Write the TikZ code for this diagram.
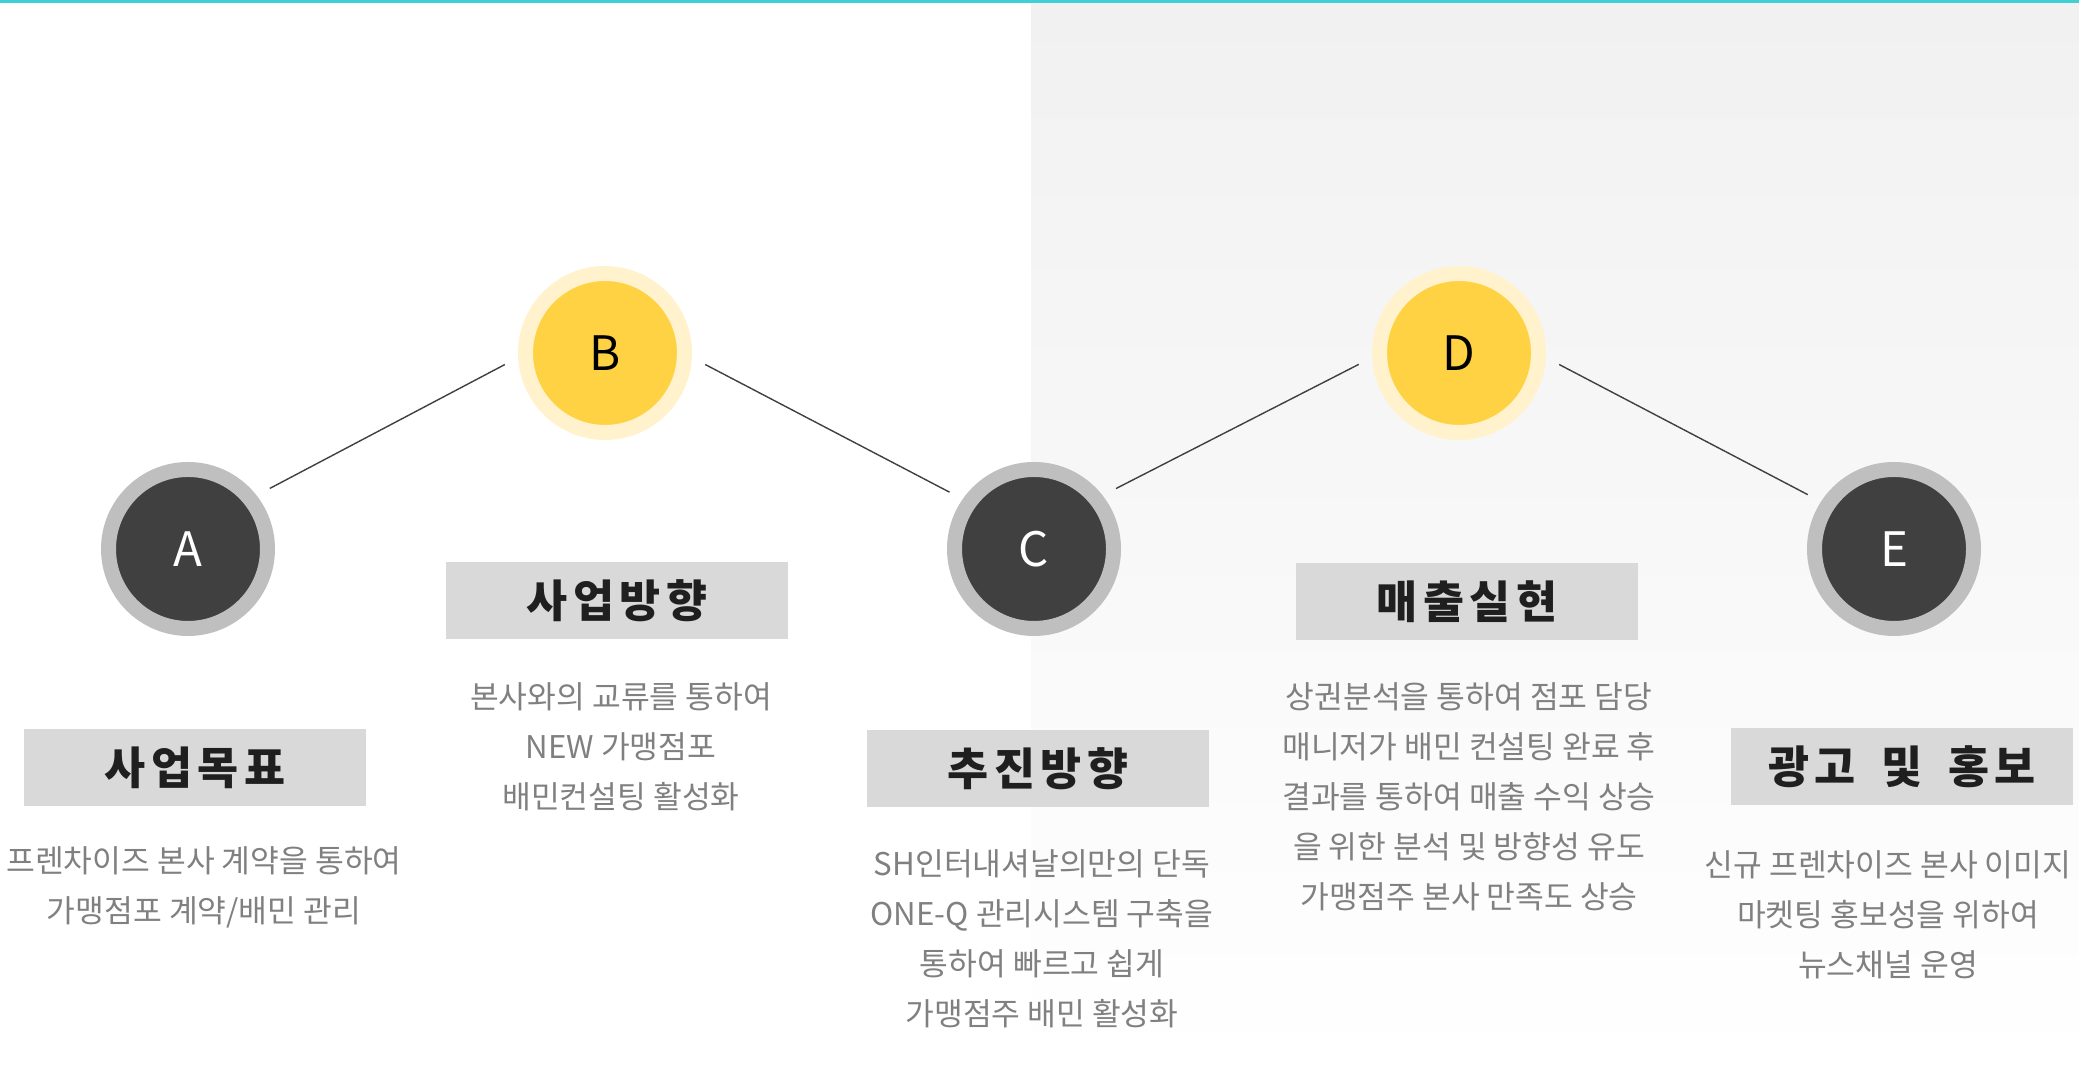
\documentclass[tikz,border=0pt]{standalone}
\usepackage{fontspec}
\setmainfont{Noto Sans CJK KR}
\newfontfamily\titlefont[LetterSpace=12]{Noto Sans CJK KR}
\usepackage{tikz}
\usetikzlibrary{calc,positioning}
\definecolor{ringgray}{HTML}{BFBFBF}
\definecolor{darkfill}{HTML}{404040}
\definecolor{ringyellow}{HTML}{FFF2CC}
\definecolor{sunfill}{HTML}{FFD243}
\definecolor{boxgray}{HTML}{D9D9D9}
\definecolor{txtgray}{HTML}{808080}
\definecolor{topline}{HTML}{40D0D4}
\definecolor{bgtop}{HTML}{F1F1F1}

\begin{document}
\begin{tikzpicture}[gcirc/.style={circle,fill=darkfill,draw=ringgray,line width=0.15cm,minimum size=1.59cm,inner sep=0pt,text=white,font=\fontsize{13.5}{16}\selectfont},
                    ycirc/.style={circle,fill=sunfill,draw=ringyellow,line width=0.15cm,minimum size=1.59cm,inner sep=0pt,text=black,font=\fontsize{13.5}{16}\selectfont},
                    ttl/.style={fill=boxgray,minimum width=3.42cm,minimum height=0.77cm,inner sep=0pt,text=black!88,font=\titlefont\fontsize{12.7}{15}\bfseries},
                    txt/.style={align=center,text=txtgray,font=\fontsize{8.9}{14.2}\selectfont},
                    link/.style={draw=darkfill,line width=0.4pt,shorten <=0.15cm,shorten >=0.15cm}]
                      \useasboundingbox (0,0) rectangle (20.79,10.69);
                      \shade[top color=bgtop,bottom color=white] (10.31,0) rectangle (20.79,10.66);
                      \fill[topline] (0,10.66) rectangle (20.79,10.69);

                      \node[gcirc] (a) at (1.88,5.20) {A};
                      \node[ycirc] (b) at (6.05,7.16) {B};
                      \node[gcirc] (c) at (10.34,5.20) {C};
                      \node[ycirc] (d) at (14.59,7.16) {D};
                      \node[gcirc] (e) at (18.94,5.20) {E};

                      \draw[link] (a.38) -- (b.183);
                      \draw[link] (b.357) -- (c.145);
                      \draw[link] (c.38) -- (d.183);
                      \draw[link] (d.357) -- (e.147);

                      \node[ttl] (ta) at (1.95,3.01) {사업목표};
                      \node[ttl] (tb) at (6.17,4.68) {사업방향};
                      \node[ttl] (tc) at (10.38,3.00) {추진방향};
                      \node[ttl] (td) at (14.67,4.67) {매출실현};
                      \node[ttl] (te) at (19.02,3.02) {광고\hspace{0.1cm} 및\hspace{0.1cm} 홍보};

                      \node[txt] (xa) at (2.04,1.82) {프렌차이즈 본사 계약을 통하여\\가맹점포 계약/배민 관리};
                      \node[txt] (xb) at (6.21,3.22) {본사와의 교류를 통하여\\NEW 가맹점포\\배민컨설팅 활성화};
                      \node[txt] (xc) at (10.42,1.30) {SH인터내셔날의만의 단독\\ONE-Q 관리시스템 구축을\\통하여 빠르고 쉽게\\가맹점주 배민 활성화};
                      \node[txt] (xd) at (14.69,2.72) {상권분석을 통하여 점포 담당\\매니저가 배민 컨설팅 완료 후\\결과를 통하여 매출 수익 상승\\을 위한 분석 및 방향성 유도\\가맹점주 본사 만족도 상승};
                      \node[txt] (xe) at (18.88,1.54) {신규 프렌차이즈 본사 이미지\\마켓팅 홍보성을 위하여\\뉴스채널 운영};
                    \end{tikzpicture}
\end{document}
